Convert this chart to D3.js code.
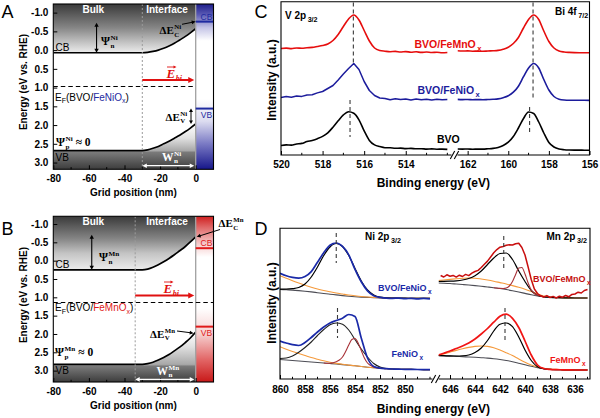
<!DOCTYPE html>
<html><head><meta charset="utf-8">
<script src="https://cdn.jsdelivr.net/npm/d3@7/dist/d3.min.js"></script>
<style>html,body{margin:0;padding:0;background:#fff;}svg{display:block;}</style>
</head><body>
<svg id="fig" width="600" height="418" xmlns="http://www.w3.org/2000/svg"></svg>
<script>
// ================= DATA =================
// Panels A/B : band diagram (grid position in nm, energy in eV vs RHE)
const gridX    = [-80, -30, -27, -24, -21, -18, -15, -12, -9, -6, -3, 0];
const cbBVO_Ni = [0.07, 0.07, 0.06, 0.035, 0.0, -0.05, -0.11, -0.18, -0.27, -0.36, -0.46, -0.57];
const vbBVO_Ni = [2.68, 2.68, 2.66, 2.62, 2.57, 2.50, 2.43, 2.35, 2.27, 2.18, 2.08, 1.97];
const cbBVO_Mn = [0.25, 0.25, 0.23, 0.18, 0.11, 0.03, -0.06, -0.16, -0.27, -0.38, -0.51, -0.65];
const vbBVO_Mn = [2.83, 2.83, 2.81, 2.77, 2.71, 2.64, 2.56, 2.46, 2.36, 2.24, 2.11, 1.95];
const levelsNi = [0.97, -0.76, 1.56];   // E_F, CB(FeNiOx), VB(FeNiOx)
const levelsMn = [1.14, -0.34, 1.80];   // E_F, CB(FeMnOx), VB(FeMnOx)
const interfaceStart = [-30, -34];      // Ni, Mn
const energyTicks = [-1, -0.5, 0, 0.5, 1, 1.5, 2, 2.5, 3];
const gridTicks = [-80, -60, -40, -20, 0];
const gridMinor = [-70, -50, -30, -10, 10];

// Panel C : XPS V 2p3/2 and Bi 4f7/2
const vEnergy = [520,519.75,519.5,519.25,519,518.75,518.5,518.25,518,517.75,517.5,517.25,517,516.75,516.5,516.25,516,515.75,515.5,515.25,515,514.75,514.5,514.25,514,513.75,513.5,513.25,513,512.75,512.5,512.25,512];
const vBVO  = [9.5,10.1,9.9,11.0,11.6,13.5,14.6,16.3,18.6,22.2,27.8,34.2,40.1,43.3,41.8,35.2,24.1,14.6,10.1,8.4,7.3,7.2,6.7,6.9,6.4,6.6,6.2,6.3,5.9,6.1,5.8,5.9,5.6];
const vFeNi = [57.5,58.4,57.8,58.9,58.6,60.0,60.2,62.1,63.5,66.5,69.5,75.0,81.0,86.5,91.5,85.5,73.5,64.5,59.5,57.0,56.5,55.2,56.3,55.4,56.0,55.1,55.9,55.3,55.8,55.0,55.7,55.2,55.5];
const vFeMn = [106.5,106.9,106.4,107.0,106.8,107.3,107.6,108.5,109.5,111.0,114.5,120.5,128.5,136.0,140.0,135.0,124.5,114.0,107.0,104.5,103.8,103.3,103.6,103.0,103.4,102.8,103.2,102.6,103.0,102.5,102.8,102.3,102.5];
const biEnergy = [162.5,162.25,162,161.75,161.5,161.25,161,160.75,160.5,160.25,160,159.75,159.5,159.25,159,158.75,158.5,158.25,158,157.75,157.5,157.25,157,156.75,156.5,156.25,156];
const biBVO  = [6.0,5.9,6.0,5.8,5.9,5.9,6.2,6.6,7.6,9.5,12.8,18.5,27.0,36.5,43.0,41.5,33.0,22.0,12.5,8.0,6.0,5.3,5.0,4.9,4.9,4.8,4.8];
const biFeNi = [55.6,55.4,55.5,55.3,55.4,55.3,55.5,55.7,56.1,57.3,59.2,62.8,68.8,78.3,87.0,91.5,87.0,75.5,65.0,58.5,55.8,55.0,54.8,54.8,54.7,54.7,54.6];
const biFeMn = [104.3,104.0,104.1,103.8,103.9,103.7,104.0,104.2,104.6,105.8,107.8,111.5,117.5,127.0,135.5,140.0,135.5,124.0,113.5,107.0,104.0,103.0,102.6,102.4,102.3,102.3,102.2];
const peakV  = [516.52, 516.68];
const peakBi = [158.78, 158.95];

// Panel D : XPS Ni 2p3/2 and Mn 2p3/2 with fitted components
const niEnergy = [860,859.5,859,858.5,858,857.5,857,856.5,856,855.5,855,854.5,854,853.5,853,852.5,852,851.5,851,850.5,850,849.5,849,848.5,848];
const niTopData   = [105.7,103.2,101.6,100.9,102.5,107.4,116.8,126.2,133.7,136.0,132.6,124.2,109.6,97.2,88.1,83.2,81.7,80.9,80.7,80.9,80.3,80.7,80.2,80.6,80.1];
const niTopBg     = [89.5,89.2,88.9,88.4,87.8,87.1,86.3,85.5,84.8,84.1,83.4,82.8,82.3,81.9,81.6,81.3,81.1,81.0,80.9,80.8,80.8,80.7,80.7,80.6,80.6];
const niTopOrange = [103.3,100.8,98.3,96.0,93.8,91.8,90.0,88.5,87.2,86.0,85.0,84.0,83.2,82.5,82.0,81.6,81.3,81.1,80.9,80.8,80.8,80.7,80.7,80.6,80.6];
const niTopMain   = [89.9,89.9,90.3,91.5,95.0,102.0,112.0,123.5,132.0,135.5,132.5,123.5,110.5,98.0,89.0,84.0,81.8,81.1,80.9,80.8,80.8,80.7,80.7,80.6,80.6];
const niBotData   = [38.0,36.0,34.3,33.5,36.5,41.5,47.0,52.0,56.0,58.5,60.8,64.5,62.5,41.0,21.0,12.5,10.8,10.3,10.0,9.8,9.7,9.6,9.5,9.4,9.3];
const niBotBg     = [19.5,19.0,18.5,18.0,17.5,17.0,16.5,16.0,15.5,15.0,14.4,13.8,13.2,12.5,11.8,11.2,10.7,10.3,10.0,9.8,9.7,9.6,9.5,9.4,9.3];
const niBotOrange = [32.3,29.8,27.5,25.5,23.5,21.5,19.8,18.2,16.8,15.6,14.7,13.9,13.2,12.5,11.8,11.2,10.7,10.3,10.0,9.8,9.7,9.6,9.5,9.4,9.3];
const niBotMain   = [20.5,21.0,23.0,26.8,31.5,37.0,43.5,49.5,54.3,56.0,54.8,49.0,39.5,30.0,22.0,15.5,12.0,10.5,10.0,9.8,9.7,9.6,9.5,9.4,9.3];
const niSatEnergy = [856.5,856.25,856,855.75,855.5,855.25,855,854.75,854.5,854.25,854,853.75,853.5,853.25,853,852.75,852.5,852.25,852,851.75,851.5];
const niBotSat    = [16.0,15.8,15.8,16.3,17.3,19.0,22.0,27.5,34.0,39.5,40.5,36.0,28.5,21.0,16.0,13.5,12.0,11.3,10.8,10.5,10.3];

const mnFineEnergy = [646.75,646.5,646.25,646,645.75,645.5,645.25,645,644.75,644.5,644.25,644,643.75,643.5,643.25,643,642.75,642.5,642.25,642,641.75,641.5,641.25,641,640.75,640.5,640.25,640,639.75,639.5,639.25,639,638.75,638.5,638.25,638,637.75,637.5,637.25,637,636.75,636.5,636.25,636,635.75,635.5,635.25,635];
const mnTopData = [103.5,102.0,104.2,102.8,103.6,101.9,103.8,102.5,104.6,103.4,105.8,107.5,108.6,111.5,114.8,117.9,122.0,126.2,129.4,131.8,132.5,133.8,134.2,134.0,135.3,135.8,131.5,124.0,112.0,99.5,90.0,85.5,83.2,82.0,83.4,81.5,82.6,81.0,82.8,81.8,83.5,82.2,84.6,85.0,86.8,86.0,88.5,89.5];
const mnEnergy = [647,646.5,646,645.5,645,644.5,644,643.5,643,642.5,642,641.5,641,640.5,640,639.5,639,638.5,638,637.5,637,636.5,636,635.5,635];
const mnTopBg     = [96.0,95.8,95.5,95.0,94.5,94.0,93.4,92.7,92.0,91.3,90.5,89.5,88.3,87.0,85.6,84.2,83.0,82.2,81.7,81.4,81.2,81.1,81.0,81.0,81.0];
const mnTopOrange = [98.5,99.0,99.6,100.2,100.7,101.0,100.8,100.0,99.0,97.8,96.4,95.0,93.4,91.7,89.8,87.5,85.0,83.0,82.0,81.5,81.2,81.1,81.0,81.0,81.0];
const mnTopMain   = [97.5,97.6,97.8,98.2,99.0,100.5,103.3,108.0,114.5,121.0,125.5,126.0,119.5,108.0,97.5,88.5,83.8,82.2,81.7,81.4,81.2,81.1,81.0,81.0,81.0];
const mnSatEnergy = [642.5,642.25,642,641.75,641.5,641.25,641,640.75,640.5,640.25,640,639.75,639.5,639.25,639,638.75,638.5];
const mnTopSat    = [91.3,91.0,90.6,90.5,91.0,93.0,97.5,104.5,111.0,111.5,105.0,96.0,89.0,85.5,83.8,83.0,82.3];
const mnBotData   = [23.7,25.8,28.0,30.5,33.0,36.0,40.0,45.0,50.5,56.8,62.8,64.8,60.7,51.5,38.0,24.0,14.0,10.5,9.6,9.3,9.2,9.1,9.0,9.0,9.0];
const mnBotMain   = [23.5,23.3,23.1,23.0,23.2,24.0,26.5,31.0,38.5,48.0,54.8,56.0,52.3,42.0,29.0,18.5,12.3,10.2,9.6,9.3,9.2,9.1,9.0,9.0,9.0];
const mnBotOrange = [23.6,25.0,26.8,28.6,30.2,31.6,32.6,33.0,32.6,31.2,29.0,26.3,23.4,20.0,16.8,14.0,12.0,10.8,10.0,9.6,9.3,9.1,9.0,9.0,9.0];
const mnBotBg     = [23.3,23.1,22.9,22.6,22.3,22.0,21.7,21.3,20.9,20.3,19.5,18.5,17.3,15.8,14.2,12.7,11.4,10.4,9.8,9.4,9.2,9.1,9.0,9.0,9.0];
const peakNi = [855.5, 855.4];
const peakMn = [641.7, 641.6];

const ticksVmaj = [520, 518, 516, 514], ticksVmin = [519, 517, 515, 513, 512];
const ticksBimaj = [162, 160, 158, 156], ticksBimin = [161, 159, 157];
const ticksNimaj = [860, 858, 856, 854, 852, 850], ticksNimin = [859, 857, 855, 853, 851, 849, 848];
const ticksMnmaj = [646, 644, 642, 640, 638, 636], ticksMnmin = [645, 643, 641, 639, 637, 635];

// ================= DRAWING =================
const SANS = "'Liberation Sans', Arial, Helvetica, sans-serif";
const SERIF = "'Liberation Serif', 'Times New Roman', serif";
const svg = d3.select("#fig");
const defs = svg.append("defs");

function grad(id, y1, y2, stops) {
  const lg = defs.append("linearGradient").attr("id", id).attr("gradientUnits", "userSpaceOnUse")
    .attr("x1", 0).attr("x2", 0).attr("y1", y1).attr("y2", y2);
  stops.forEach(([o, c]) => lg.append("stop").attr("offset", Math.max(0, Math.min(1, o))).attr("stop-color", c));
}
function clip(id, x, y, w, h) {
  defs.append("clipPath").attr("id", id).append("rect").attr("x", x).attr("y", y).attr("width", w).attr("height", h);
}
function txt(g, x, y, s, o) {
  o = o || {};
  return g.append("text").attr("x", x).attr("y", y).text(s)
    .attr("font-family", o.family || SANS).attr("font-size", o.size || 10)
    .attr("font-weight", o.weight || "normal").attr("fill", o.fill || "#000")
    .attr("font-style", o.italic ? "italic" : null)
    .attr("text-anchor", o.anchor || "start");
}
function arrow(g, x1, y1, x2, y2, color, w, both, hl, hw) {
  hl = hl || 5; hw = hw || 2.6;
  const a = Math.atan2(y2 - y1, x2 - x1);
  const head = (x, y, ang) => {
    const p1 = [x - hl * Math.cos(ang) + hw * Math.sin(ang), y - hl * Math.sin(ang) - hw * Math.cos(ang)];
    const p2 = [x - hl * Math.cos(ang) - hw * Math.sin(ang), y - hl * Math.sin(ang) + hw * Math.cos(ang)];
    g.append("path").attr("d", `M${x},${y}L${p1}L${p2}Z`).attr("fill", color);
  };
  const sx = both ? x1 + hl * 0.7 * Math.cos(a) : x1, sy = both ? y1 + hl * 0.7 * Math.sin(a) : y1;
  const ex = x2 - hl * 0.7 * Math.cos(a), ey = y2 - hl * 0.7 * Math.sin(a);
  g.append("line").attr("x1", sx).attr("y1", sy).attr("x2", ex).attr("y2", ey).attr("stroke", color).attr("stroke-width", w);
  head(x2, y2, a);
  if (both) head(x1, y1, a + Math.PI);
}
function script(g, x, y, base, sup, sub, o) {
  o = o || {};
  const size = o.size || 11, fill = o.fill || "#000";
  const t = txt(g, x, y, base, {family: SERIF, size: size, weight: "bold", fill: fill, italic: o.italic});
  const w = t.node().getComputedTextLength();
  const sx = x + w + 0.6;
  let w2 = 0;
  if (sup) { const s = txt(g, sx, y - size * 0.42, sup, {family: SERIF, size: size * 0.62, weight: "bold", fill: fill, italic: o.italic}); w2 = Math.max(w2, s.node().getComputedTextLength()); }
  if (sub) { const s = txt(g, sx, y + size * 0.24, sub, {family: SERIF, size: size * 0.62, weight: "bold", fill: fill, italic: o.italic}); w2 = Math.max(w2, s.node().getComputedTextLength()); }
  return sx + w2;
}
function letter(s, x, y) { txt(svg, x, y, s, {size: 18}); }

// ---------- band diagram panels ----------
const xBand = d3.scaleLinear().domain([-80, 10]).range([53.3, 213.5]);
const yA = d3.scaleLinear().domain([-1.23, 3.18]).range([4, 169.3]);
const yB = d3.scaleLinear().domain([-1.21, 3.31]).range([216.3, 382]);

function bandPanel(cfg) {
  const x = xBand, y = cfg.y;
  const top = y.range()[0], bot = y.range()[1];
  const L = x(-80), R = x(10), X0 = x(0);
  const g = svg.append("g");
  clip(cfg.id + "clip", L, top, X0 - L, bot - top);
  const gc = g.append("g").attr("clip-path", `url(#${cfg.id}clip)`);
  const cbFlat = cfg.cb[0], vbFlat = cfg.vb[0], vbEnd = cfg.vb[cfg.vb.length - 1];
  const tOff = e => (y(e) - top) / (y(cbFlat) - top);
  grad(cfg.id + "T", top, y(cbFlat), [[0, "#3a3a3a"], [tOff(-0.6), "#858585"], [tOff(-0.2), "#c4c4c4"], [1, "#ececec"]]);
  const bOff = e => (y(e) - y(vbEnd)) / (bot - y(vbEnd));
  grad(cfg.id + "V", y(vbEnd), bot, [[0, "#ffffff"], [bOff(2.35), "#e0e0e0"], [bOff(vbFlat), "#a8a8a8"], [bOff(vbFlat + 0.05), "#7a7a7a"], [1, "#3c3c3c"]]);
  const areaTop = d3.area().x((d, i) => x(gridX[i])).y0(top).y1(d => y(d)).curve(d3.curveMonotoneX);
  const areaBot = d3.area().x((d, i) => x(gridX[i])).y0(bot).y1(d => y(d)).curve(d3.curveMonotoneX);
  gc.append("path").attr("d", areaTop(cfg.cb)).attr("fill", `url(#${cfg.id}T)`);
  gc.append("path").attr("d", areaBot(cfg.vb)).attr("fill", `url(#${cfg.id}V)`);
  // oxide strip
  grad(cfg.id + "S", top, bot, cfg.strip.map(([e, c]) => [(y(e) - top) / (bot - top), c]));
  g.append("rect").attr("x", X0).attr("y", top).attr("width", R - X0).attr("height", bot - top).attr("fill", `url(#${cfg.id}S)`);
  // interface boundary (dotted) and junction
  g.append("line").attr("x1", x(cfg.w)).attr("x2", x(cfg.w)).attr("y1", top).attr("y2", bot)
    .attr("stroke", "#9a9a9a").attr("stroke-width", 1).attr("stroke-dasharray", "2,2");
  g.append("line").attr("x1", X0).attr("x2", X0).attr("y1", top).attr("y2", bot).attr("stroke", "#a0a0a0").attr("stroke-width", 1.3);
  // band edges
  const line = d3.line().x((d, i) => x(gridX[i])).y(d => y(d)).curve(d3.curveMonotoneX);
  gc.append("path").attr("d", line(cfg.cb)).attr("fill", "none").attr("stroke", "#000").attr("stroke-width", 1.7);
  gc.append("path").attr("d", line(cfg.vb)).attr("fill", "none").attr("stroke", "#000").attr("stroke-width", 1.7);
  // Fermi level
  g.append("line").attr("x1", L).attr("x2", x(cfg.efEnd)).attr("y1", y(cfg.lv[0])).attr("y2", y(cfg.lv[0]))
    .attr("stroke", "#000").attr("stroke-width", 1.1).attr("stroke-dasharray", "4.5,3");
  // oxide band edges
  [cfg.lv[1], cfg.lv[2]].forEach(e => g.append("line").attr("x1", X0).attr("x2", R).attr("y1", y(e)).attr("y2", y(e))
    .attr("stroke", cfg.ox).attr("stroke-width", 2));
  // axes
  const ax = g.append("g").attr("transform", `translate(0,${bot})`)
    .call(d3.axisBottom(x).tickValues(gridTicks).tickSizeInner(-4).tickSizeOuter(0).tickPadding(5.4).tickFormat(d => String(d)));
  ax.select(".domain").remove();
  ax.attr("font-family", SANS).attr("font-size", 10).attr("font-weight", "bold");
  gridMinor.forEach(v => g.append("line").attr("x1", x(v)).attr("x2", x(v)).attr("y1", bot).attr("y2", bot - 2.2).attr("stroke", "#000"));
  const ay = g.append("g").attr("transform", `translate(${L},0)`)
    .call(d3.axisLeft(y).tickValues(energyTicks).tickSizeInner(-4).tickSizeOuter(0).tickPadding(5).tickFormat(d => d.toFixed(1)));
  ay.select(".domain").remove();
  ay.attr("font-family", SANS).attr("font-size", 10).attr("font-weight", "bold");
  g.append("rect").attr("x", L).attr("y", top).attr("width", R - L).attr("height", bot - top)
    .attr("fill", "none").attr("stroke", "#000").attr("stroke-width", 1.1);
  txt(g, (L + R) / 2, bot + 27, "Grid position (nm)", {size: 10, weight: "bold", anchor: "middle"});
  txt(g, 0, 0, "Energy (eV vs. RHE)", {size: 10, weight: "bold", anchor: "middle"})
    .attr("transform", `translate(27,${cfg.ycenter}) rotate(-90)`);
  // region labels
  txt(g, 93.3, top + 9, "Bulk", {size: 10, weight: "bold", fill: "#fff", anchor: "middle"});
  txt(g, 167, top + 9, "Interface", {size: 10, weight: "bold", fill: "#fff", anchor: "middle"});
  txt(g, 55.5, y(cbFlat) - 2.2, "CB", {size: 10});
  txt(g, 55.5, cfg.vbLabelY, "VB", {size: 10});
  txt(g, 206.5, y(cfg.lv[1]) - 1.8, "CB", {size: 8.5, fill: cfg.ox, anchor: "middle"});
  txt(g, 206.5, y(cfg.lv[2]) + 9.5, "VB", {size: 8.5, fill: cfg.ox, anchor: "middle"});
  // Fermi label
  const ef = g.append("text").attr("x", 55).attr("y", cfg.efLabelY).attr("font-family", SANS).attr("font-size", 10);
  ef.append("tspan").text("E");
  ef.append("tspan").attr("dy", 2.5).attr("font-size", 7).text("F");
  ef.append("tspan").attr("dy", -2.5).text("(BVO/");
  ef.append("tspan").attr("fill", cfg.ox).text(cfg.oxName);
  ef.append("tspan").attr("fill", cfg.ox).attr("dy", 2.5).attr("font-size", 7).text("x");
  ef.append("tspan").attr("dy", -2.5).text(")");
  // built-in field arrow
  arrow(g, x(cfg.w), y(cfg.ebi), x(-0.8), y(cfg.ebi), "#e01010", 2, false, 6, 3);
  const ex0 = cfg.ebiX;
  const ee = script(g, ex0, cfg.ebiLabelY, "E", null, "bi", {size: 13, fill: "#e01010", italic: true});
  arrow(g, ex0 + 0.5, cfg.ebiLabelY - 11, ex0 + 10, cfg.ebiLabelY - 11, "#e01010", 0.9, false, 3, 1.6);
  // depletion width arrow
  arrow(g, x(cfg.w), bot - (cfg.wArrowOff), x(-0.8), bot - (cfg.wArrowOff), "#fff", 1.3, true, 4.5, 2.3);
  script(g, cfg.wX, cfg.wY, "W", cfg.sup, "n", {size: 11.5, fill: "#fff"});
  // Psi_n arrow
  arrow(g, x(cfg.psiX), y(cfg.psiTop), x(cfg.psiX), y(cbFlat), "#000", 1.1, true, 4, 2.2);
  script(g, cfg.psiLX, cfg.psiLY, "\u03A8", cfg.sup, "n", {size: 11.5});
  const pe = script(g, cfg.pLX, cfg.pLY, "\u03A8", cfg.sup, "p", {size: 11.5});
  txt(g, pe + 3, cfg.pLY, "\u2248 0", {family: SERIF, size: 11.5, weight: "bold"});
  return g;
}

const gA = bandPanel({
  id: "pA", y: yA, cb: cbBVO_Ni, vb: vbBVO_Ni, lv: levelsNi, w: interfaceStart[0], efEnd: 0,
  ox: "#1e2aa0", oxName: "FeNiO", sup: "Ni", ycenter: 82,
  strip: [[-1.23, "#1d1d8a"], [-0.95, "#5a5ab4"], [-0.6, "#c4c4e6"], [-0.25, "#ffffff"], [1.3, "#ffffff"], [1.9, "#dcdcf0"], [2.5, "#7a7ac4"], [3.18, "#16168a"]],
  vbLabelY: 160.5, efLabelY: 100.5, ebi: 0.80, ebiX: 166.5, ebiLabelY: 78,
  wArrowOff: 3.6, wX: 162, wY: 160.5, psiX: -55.7, psiTop: -0.73, psiLX: 101, psiLY: 45, pLX: 56, pLY: 146
});
const gB = bandPanel({
  id: "pB", y: yB, cb: cbBVO_Mn, vb: vbBVO_Mn, lv: levelsMn, w: interfaceStart[1], efEnd: 10,
  ox: "#e01a1a", oxName: "FeMnO", sup: "Mn", ycenter: 295,
  strip: [[-1.21, "#cf1f1f"], [-0.9, "#e06a6a"], [-0.45, "#f6cccc"], [-0.1, "#ffffff"], [1.3, "#ffffff"], [2.0, "#f6d0d0"], [2.7, "#e26666"], [3.31, "#c81818"]],
  vbLabelY: 374, efLabelY: 311, ebi: 0.95, ebiX: 163.5, ebiLabelY: 293,
  wArrowOff: 2.6, wX: 156.5, wY: 374.5, psiX: -58.4, psiTop: -0.71, psiLX: 99, psiLY: 261, pLX: 55, pLY: 356
});
// Delta E labels (A)
script(gA, 159.5, 34, "\u0394E", "Ni", "C", {size: 11});
arrow(gA, 182, 24.3, xBand(0), yA(levelsNi[1]), "#000", 1, false, 4, 2);
script(gA, 165.5, 120.5, "\u0394E", "Ni", "V", {size: 11});
arrow(gA, 191, yA(levelsNi[2]), 191, yA(vbBVO_Ni[vbBVO_Ni.length - 1]), "#000", 1, true, 3.5, 2);
// Delta E labels (B)
script(gB, 218.5, 227, "\u0394E", "Mn", "C", {size: 11});
arrow(gB, 220, 229.5, xBand(0) + 1, yB(cbBVO_Mn[cbBVO_Mn.length - 1]), "#000", 1, false, 4, 2);
script(gB, 150, 337.5, "\u0394E", "Mn", "V", {size: 11});
arrow(gB, 177, 331, xBand(0) - 2, yB(vbBVO_Mn[vbBVO_Mn.length - 1]) + 1, "#000", 1, false, 4, 2);

letter("A", 1.5, 18.3);
letter("B", 1.5, 234.7);
letter("C", 254.5, 18.3);
letter("D", 254.5, 235);

// ---------- spectra helpers ----------
function spec(g, xs, ys, energies, vals, color, width, curve) {
  const ln = d3.line().defined(d => d[1] != null).x(d => xs(d[0])).y(d => ys(d[1])).curve(curve || d3.curveMonotoneX);
  g.append("path").attr("d", ln(energies.map((e, i) => [e, vals[i]]))).attr("fill", "none")
    .attr("stroke", color).attr("stroke-width", width).attr("stroke-linejoin", "round");
}
function dashV(g, xs, ys, e, v1, v2) {
  g.append("line").attr("x1", xs(e)).attr("x2", xs(e)).attr("y1", ys(v1)).attr("y2", ys(v2))
    .attr("stroke", "#3a3a3a").attr("stroke-width", 1.1).attr("stroke-dasharray", "4,3");
}
function segAxis(g, xs, y0, major, minor, pad) {
  const a = g.append("g").attr("transform", `translate(0,${y0})`)
    .call(d3.axisBottom(xs).tickValues(major).tickSizeInner(-4).tickSizeOuter(0).tickPadding(pad).tickFormat(d => String(d)));
  a.select(".domain").remove();
  a.attr("font-family", SANS).attr("font-size", 10).attr("font-weight", "bold");
  minor.forEach(v => g.append("line").attr("x1", xs(v)).attr("x2", xs(v)).attr("y1", y0).attr("y2", y0 - 2.2).attr("stroke", "#000"));
}
function frameBroken(g, L, T, R, B, gap1, gap2) {
  g.append("path").attr("d", `M${gap1},${B}L${L},${B}L${L},${T}L${R},${T}L${R},${B}L${gap2},${B}`)
    .attr("fill", "none").attr("stroke", "#000").attr("stroke-width", 1.1);
  [gap1 + 1, gap2 - 1].forEach(xx => g.append("line").attr("x1", xx - 2.2).attr("y1", B + 4).attr("x2", xx + 2.2).attr("y2", B - 4)
    .attr("stroke", "#000").attr("stroke-width", 1.1));
}
function chem(g, x, y, main, sub, color, size) {
  const t = g.append("text").attr("x", x).attr("y", y).attr("fill", color).attr("font-family", SANS)
    .attr("font-weight", "bold").attr("font-size", size);
  t.append("tspan").text(main);
  if (sub) t.append("tspan").attr("dx", 1.5).attr("dy", size * 0.3).attr("font-size", size * 0.72).text(sub);
}

// ---------- Panel C ----------
const xV = d3.scaleLinear().domain([520, 511.8]).range([281, 451.5]);
const xBi = d3.scaleLinear().domain([162.5, 156]).range([457.5, 589.5]);
const yC = d3.scaleLinear().domain([0, 153]).range([155, 2]);
const gC = svg.append("g");
clip("cV", 281, 1.7, 451.5 - 281, 155 - 1.7);
clip("cBi", 457.5, 1.7, 589.5 - 457.5, 155 - 1.7);
const gCV = gC.append("g").attr("clip-path", "url(#cV)");
const gCB = gC.append("g").attr("clip-path", "url(#cBi)");
const RED = "#e60d0d", BLUE = "#1c1c9c";
spec(gCV, xV, yC, vEnergy, vBVO, "#000", 1.6);
spec(gCV, xV, yC, vEnergy, vFeNi, BLUE, 1.5, d3.curveLinear);
spec(gCV, xV, yC, vEnergy, vFeMn, RED, 1.6);
spec(gCB, xBi, yC, biEnergy, biBVO, "#000", 1.6);
spec(gCB, xBi, yC, biEnergy, biFeNi, BLUE, 1.6);
spec(gCB, xBi, yC, biEnergy, biFeMn, RED, 1.6);
dashV(gC, xV, yC, peakV[0], 152.5, 90);
dashV(gC, xV, yC, peakV[1], 55, 18);
dashV(gC, xBi, yC, peakBi[0], 152.5, 55);
dashV(gC, xBi, yC, peakBi[1], 48, 20);
frameBroken(gC, 281, 1.7, 589.5, 155, 451.5, 457.5);
segAxis(gC, xV, 155, ticksVmaj, ticksVmin, 6);
segAxis(gC, xBi, 155, ticksBimaj, ticksBimin, 6);
chem(gC, 414.5, 48, "BVO/FeMnO", "x", RED, 10.5);
chem(gC, 417.5, 94, "BVO/FeNiO", "x", BLUE, 10.5);
chem(gC, 437, 142.5, "BVO", null, "#000", 10.5);
chem(gC, 285, 18.5, "V 2p", "3/2", "#000", 10);
chem(gC, 555, 15, "Bi 4f", "7/2", "#000", 10);
txt(gC, 433.3, 187, "Binding energy (eV)", {size: 12, weight: "bold", anchor: "middle"});
txt(gC, 0, 0, "Intensity (a.u.)", {size: 12, weight: "bold", anchor: "middle"}).attr("transform", "translate(276,80) rotate(-90)");

// ---------- Panel D ----------
const xNi = d3.scaleLinear().domain([860, 847.8]).range([280, 432.5]);
const xMn = d3.scaleLinear().domain([646.9, 634.8]).range([438.75, 590]);
const yD = d3.scaleLinear().domain([0, 151]).range([379, 228]);
const gD = svg.append("g");
clip("cNi", 280, 228.3, 432.5 - 280, 379 - 228.3);
clip("cMn", 438.75, 228.3, 590 - 438.75, 379 - 228.3);
const gDN = gD.append("g").attr("clip-path", "url(#cNi)");
const gDM = gD.append("g").attr("clip-path", "url(#cMn)");
const BG = "#4d4d55", ORANGE = "#f59a3c", MAROON = "#a83238", DBLUE = "#1a2aa8";
// Ni upper
spec(gDN, xNi, yD, niEnergy, niTopBg, BG, 1.1);
spec(gDN, xNi, yD, niEnergy, niTopOrange, ORANGE, 1.1);
spec(gDN, xNi, yD, niEnergy, niTopMain, "#000", 1.2);
spec(gDN, xNi, yD, niEnergy, niTopData, DBLUE, 1.7);
// Ni lower
spec(gDN, xNi, yD, niEnergy, niBotBg, BG, 1.1);
spec(gDN, xNi, yD, niEnergy, niBotOrange, ORANGE, 1.1);
spec(gDN, xNi, yD, niEnergy, niBotMain, "#222", 1.1);
spec(gDN, xNi, yD, niSatEnergy, niBotSat, MAROON, 1.1);
spec(gDN, xNi, yD, niEnergy, niBotData, DBLUE, 1.7);
// Mn upper
spec(gDM, xMn, yD, mnEnergy, mnTopBg, BG, 1.1);
spec(gDM, xMn, yD, mnEnergy, mnTopOrange, ORANGE, 1.1);
spec(gDM, xMn, yD, mnEnergy, mnTopMain, "#000", 1.2);
spec(gDM, xMn, yD, mnSatEnergy, mnTopSat, MAROON, 1.1);
spec(gDM, xMn, yD, mnFineEnergy, mnTopData, "#c90f0f", 1.5, d3.curveLinear);
// Mn lower
spec(gDM, xMn, yD, mnEnergy, mnBotBg, BG, 1.1);
spec(gDM, xMn, yD, mnEnergy, mnBotOrange, ORANGE, 1.1);
spec(gDM, xMn, yD, mnEnergy, mnBotMain, "#000", 1.2);
spec(gDM, xMn, yD, mnEnergy, mnBotData, "#f01515", 1.7);
dashV(gD, xNi, yD, peakNi[0], 146, 116);
dashV(gD, xNi, yD, peakNi[1], 71, 41);
dashV(gD, xMn, yD, peakMn[0], 143, 109);
dashV(gD, xMn, yD, peakMn[1], 71, 38);
frameBroken(gD, 280, 228.3, 590, 379, 432.5, 438.75);
segAxis(gD, xNi, 379, ticksNimaj, ticksNimin, 6.5);
segAxis(gD, xMn, 379, ticksMnmaj, ticksMnmin, 6.5);
chem(gD, 365, 240, "Ni 2p", "3/2", "#000", 10);
chem(gD, 546.5, 240, "Mn 2p", "3/2", "#000", 10);
chem(gD, 378, 291, "BVO/FeNiO", "x", DBLUE, 9);
chem(gD, 391.5, 357, "FeNiO", "x", DBLUE, 9);
chem(gD, 533, 282, "BVO/FeMnO", "x", "#c40f0f", 9);
chem(gD, 550, 363, "FeMnO", "x", "#f01515", 9);
txt(gD, 433.3, 413, "Binding energy (eV)", {size: 12, weight: "bold", anchor: "middle"});
txt(gD, 0, 0, "Intensity (a.u.)", {size: 12, weight: "bold", anchor: "middle"}).attr("transform", "translate(276,303) rotate(-90)");
</script>
</body></html>
